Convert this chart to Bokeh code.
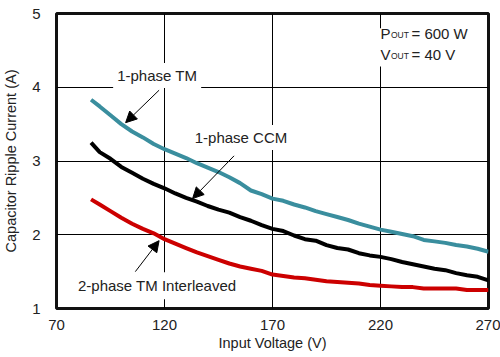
from bokeh.plotting import figure
from bokeh.models import Range1d, FixedTicker, Label, Arrow, NormalHead, BoxAnnotation
from bokeh.embed import file_html
from bokeh.resources import INLINE

# ---- data ----
voltage = [86, 90, 95, 100, 105, 110, 115, 120, 125, 130, 135, 140, 145, 150, 155,
           160, 165, 170, 175, 180, 185, 190, 195, 200, 205, 210, 215, 220, 225,
           230, 235, 240, 245, 250, 255, 260, 265, 270]
tm_1phase = [3.83, 3.74, 3.62, 3.50, 3.40, 3.32, 3.23, 3.16, 3.10, 3.04, 2.97, 2.91,
             2.85, 2.78, 2.70, 2.60, 2.55, 2.49, 2.46, 2.41, 2.37, 2.32, 2.28, 2.24,
             2.20, 2.15, 2.11, 2.07, 2.04, 2.01, 1.98, 1.93, 1.91, 1.89, 1.86, 1.84,
             1.81, 1.77]
ccm_1phase = [3.25, 3.12, 3.03, 2.92, 2.84, 2.76, 2.69, 2.63, 2.56, 2.50, 2.45, 2.39,
              2.34, 2.30, 2.24, 2.19, 2.13, 2.08, 2.05, 1.99, 1.94, 1.92, 1.86, 1.82,
              1.80, 1.75, 1.72, 1.70, 1.67, 1.63, 1.60, 1.57, 1.54, 1.52, 1.48, 1.45,
              1.43, 1.38]
tm_2phase = [2.48, 2.41, 2.32, 2.23, 2.15, 2.08, 2.02, 1.94, 1.88, 1.82, 1.76, 1.71,
             1.66, 1.61, 1.57, 1.54, 1.51, 1.46, 1.44, 1.42, 1.41, 1.39, 1.37, 1.36,
             1.35, 1.34, 1.32, 1.31, 1.30, 1.29, 1.29, 1.27, 1.27, 1.27, 1.27, 1.25,
             1.25, 1.25]
x_ticks = [70, 120, 170, 220, 270]
y_ticks = [1, 2, 3, 4, 5]

FONT = "Liberation Sans"
TXT = "#222222"

p = figure(width=500, height=357, output_backend="svg", toolbar_location=None,
           x_range=Range1d(70, 270), y_range=Range1d(1, 5))
p.min_border_left = 50
p.min_border_right = 12
p.min_border_top = 13
p.min_border_bottom = 49
p.background_fill_color = "white"
p.border_fill_color = "white"
p.outline_line_color = "#111111"
p.outline_line_width = 3

for ax in (p.xaxis, p.yaxis):
    ax.axis_line_color = None
    ax.major_tick_line_color = None
    ax.minor_tick_line_color = None
    ax.major_label_text_font = FONT
    ax.major_label_text_font_size = "15px"
    ax.major_label_text_color = TXT
    ax.axis_label_text_font = FONT
    ax.axis_label_text_font_size = "14.5px"
    ax.axis_label_text_font_style = "normal"
    ax.axis_label_text_color = TXT

p.xaxis.ticker = FixedTicker(ticks=x_ticks)
p.yaxis.ticker = FixedTicker(ticks=y_ticks)
p.xaxis.axis_label = "Input Voltage (V)"
p.yaxis.axis_label = "Capacitor Ripple Current (A)"
p.xaxis.major_label_standoff = 5
p.xaxis.axis_label_standoff = 2
p.yaxis.major_label_standoff = 10
p.yaxis.axis_label_standoff = 10

p.xgrid.ticker = FixedTicker(ticks=x_ticks)
p.ygrid.ticker = FixedTicker(ticks=y_ticks)
for g in (p.xgrid, p.ygrid):
    g.grid_line_color = "black"
    g.grid_line_width = 1
    g.grid_line_alpha = 1

p.line(voltage, tm_1phase, line_color="#3a8e9e", line_width=4)
p.line(voltage, ccm_1phase, line_color="black", line_width=4)
p.line(voltage, tm_2phase, line_color="#cc0000", line_width=4)

def lab(x, y, text, **kw):
    opts = dict(text_font=FONT, text_font_size="15px", text_color=TXT,
                text_align="center", text_baseline="middle")
    opts.update(kw)
    l = Label(x=x, y=y, text=text, **opts)
    p.add_layout(l)
    return l

lab(116.6, 4.16, "1-phase TM", background_fill_color="white", padding=4)
lab(155.4, 3.32, "1-phase CCM", background_fill_color="white", padding=4)
lab(116.6, 1.31, "2-phase TM Interleaved", background_fill_color="white", padding=5)

def arrow(x0, y0, x1, y1):
    p.add_layout(Arrow(end=NormalHead(size=11, fill_color="black", line_color="black"),
                       x_start=x0, y_start=y0, x_end=x1, y_end=y1,
                       line_color="black", line_width=1))

arrow(117.5, 3.96, 102.0, 3.52)
arrow(152.2, 3.07, 133.0, 2.49)
arrow(106.5, 1.50, 117.5, 1.92)

p.add_layout(BoxAnnotation(left=218.6, right=264.0, top=4.80, bottom=4.28,
                           fill_color="white", fill_alpha=1, line_color=None,
                           level="annotation"))
for yv, sym, rest in ((4.73, "P", "= 600 W"), (4.45, "V", "= 40 V")):
    lab(220.0, yv, sym, text_align="left")
    lab(220.0, yv, "OUT", text_align="left", text_font_size="8.5px",
        x_offset=10.5, y_offset=-2)
    lab(220.0, yv, rest, text_align="left", x_offset=31)

open("out.html", "w").write(file_html(p, INLINE))
